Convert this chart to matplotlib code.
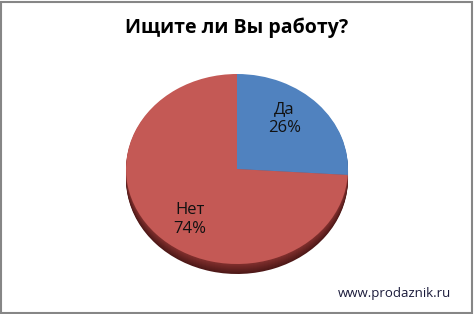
import matplotlib
matplotlib.use('Agg')
import numpy as np
import matplotlib.pyplot as plt
from matplotlib.colors import to_rgb
from matplotlib.patches import Rectangle

labels = ['Да', 'Нет']
shares = [26, 74]
top_colors = ['#5082BF', '#C45955']
side_top = ['#3F6898', '#7E2E2C']
side_bottom = ['#2A4668', '#4E1918']
title = 'Ищите ли Вы работу?'
watermark = 'www.prodaznik.ru'

W, H = 474, 314
fig = plt.figure(figsize=(W / 100, H / 100), dpi=100)
fam = ['Open Sans', 'DejaVu Sans']

# pie axes, in pixels: ellipse centre (237,169), semi axes 111 x 95
cx, cy, a, b = 237, 169, 111, 95
depth = 10
ylo = -1 - depth / b - 0.05
ax_h = b * (1 - ylo)
ax = fig.add_axes([(cx - a) / W, (H - (cy - b) - ax_h) / H, 2 * a / W, ax_h / H])

# extruded side: stack darker copies of the pie downwards (darkest at bottom)
for k in range(depth, 0, -1):
    t = (k - 1) / (depth - 1)
    shade = [tuple(np.array(to_rgb(c0)) * (1 - t) + np.array(to_rgb(c1)) * t)
             for c0, c1 in zip(side_top, side_bottom)]
    ws, _ = ax.pie(shares, colors=shade, startangle=90, counterclock=False,
                   center=(0, -k / b), radius=1, frame=True)
    for w in ws:
        w.set_linewidth(0)
        w.set_clip_on(False)

wedges, _ = ax.pie(shares, colors=top_colors, startangle=90, counterclock=False,
                   frame=True)
for w, lab, s in zip(wedges, labels, shares):
    w.set_linewidth(0)
    w.set_clip_on(False)
    ang = np.deg2rad((w.theta1 + w.theta2) / 2 + 8)
    ax.text(0.68 * np.cos(ang), 0.68 * np.sin(ang), f'{lab}\n{s}%', ha='center',
            va='center', fontsize=12, family=fam, color='#111111', linespacing=1.25)

ax.set_aspect('auto')
ax.set_xlim(-1, 1)
ax.set_ylim(ylo, 1)
ax.axis('off')

fig.text(0.5, 1 - 28 / H, title, ha='center', va='center', fontsize=14,
         fontweight='bold', family=fam, color='black')
fig.text(394 / W, 1 - 293 / H, watermark, ha='center', va='center', fontsize=9.5,
         family=fam, color='#1a1a3a')

fig.patches.append(Rectangle((1 / W, 1 / H), (W - 3) / W, (H - 3) / H,
                             transform=fig.transFigure, fill=False,
                             edgecolor='#868686', linewidth=1.5))

plt.savefig('out.png', dpi=100)
plt.close()
